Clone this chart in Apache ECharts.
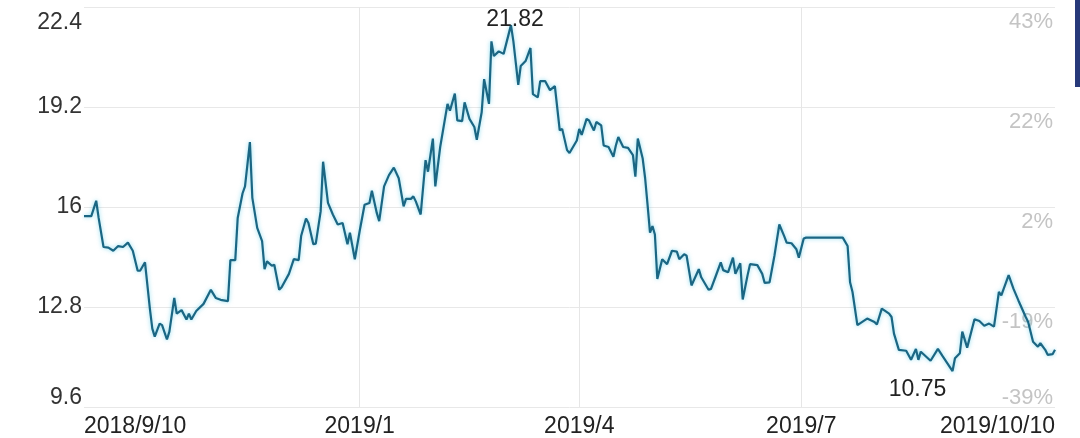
<!DOCTYPE html>
<html><head><meta charset="utf-8">
<script src="https://cdn.jsdelivr.net/npm/echarts@6/dist/echarts.min.js"></script>
<style>html,body{margin:0;padding:0;background:#fff}#c{width:1080px;height:438px}</style>
</head><body><div id="c"></div>
<script>
const dates = [
'2018-09-10','2018-09-13','2018-09-15','2018-09-16','2018-09-18','2018-09-20','2018-09-22','2018-09-24','2018-09-26','2018-09-28',
'2018-09-30','2018-10-02','2018-10-03','2018-10-05','2018-10-07','2018-10-08','2018-10-09','2018-10-11','2018-10-12','2018-10-14',
'2018-10-15','2018-10-17','2018-10-18','2018-10-20','2018-10-22','2018-10-23','2018-10-24','2018-10-26','2018-10-29','2018-11-01',
'2018-11-03','2018-11-05','2018-11-08','2018-11-09','2018-11-11','2018-11-12','2018-11-14','2018-11-15','2018-11-17','2018-11-18',
'2018-11-20','2018-11-22','2018-11-23','2018-11-24','2018-11-26','2018-11-27','2018-11-29','2018-11-30','2018-12-03','2018-12-05',
'2018-12-07','2018-12-08','2018-12-10','2018-12-11','2018-12-13','2018-12-14','2018-12-16','2018-12-17','2018-12-19','2018-12-21',
'2018-12-23','2018-12-25','2018-12-27','2018-12-28','2018-12-30','2019-01-01','2019-01-03','2019-01-05','2019-01-06','2019-01-08',
'2019-01-09','2019-01-11','2019-01-13','2019-01-15','2019-01-17','2019-01-19','2019-01-20','2019-01-22','2019-01-23','2019-01-24',
'2019-01-26','2019-01-28','2019-01-29','2019-01-31','2019-02-01','2019-02-03','2019-02-06','2019-02-07','2019-02-09','2019-02-10',
'2019-02-12','2019-02-13','2019-02-15','2019-02-17','2019-02-18','2019-02-20','2019-02-21','2019-02-23','2019-02-24','2019-02-25',
'2019-02-27','2019-03-01','2019-03-04','2019-03-05','2019-03-07','2019-03-08','2019-03-10','2019-03-12','2019-03-13','2019-03-15',
'2019-03-16','2019-03-18','2019-03-20','2019-03-22','2019-03-24','2019-03-25','2019-03-27','2019-03-28','2019-03-31','2019-04-01',
'2019-04-02','2019-04-04','2019-04-05','2019-04-07','2019-04-08','2019-04-10','2019-04-11','2019-04-13','2019-04-15','2019-04-16',
'2019-04-17','2019-04-19','2019-04-21','2019-04-23','2019-04-24','2019-04-25','2019-04-27','2019-04-28','2019-04-29','2019-04-30',
'2019-05-01','2019-05-02','2019-05-03','2019-05-05','2019-05-07','2019-05-09','2019-05-11','2019-05-12','2019-05-14','2019-05-15',
'2019-05-17','2019-05-20','2019-05-21','2019-05-24','2019-05-25','2019-05-27','2019-05-29','2019-05-30','2019-06-01','2019-06-03',
'2019-06-04','2019-06-06','2019-06-07','2019-06-09','2019-06-10','2019-06-13','2019-06-15','2019-06-16','2019-06-18','2019-06-20',
'2019-06-22','2019-06-24','2019-06-25','2019-06-27','2019-06-29','2019-06-30','2019-07-02','2019-07-03','2019-07-18','2019-07-20',
'2019-07-21','2019-07-22','2019-07-24','2019-07-28','2019-07-31','2019-08-01','2019-08-03','2019-08-06','2019-08-07','2019-08-08',
'2019-08-10','2019-08-13','2019-08-15','2019-08-17','2019-08-18','2019-08-19','2019-08-23','2019-08-26','2019-08-28','2019-09-01',
'2019-09-02','2019-09-04','2019-09-05','2019-09-07','2019-09-10','2019-09-12','2019-09-14','2019-09-16','2019-09-18','2019-09-20',
'2019-09-21','2019-09-24','2019-09-26','2019-09-28','2019-10-01','2019-10-02','2019-10-04','2019-10-06','2019-10-07','2019-10-09',
'2019-10-10','2019-10-12','2019-10-13'
];
const prices = [
15.71,15.71,16.20,15.65,14.72,14.70,14.60,14.75,14.72,14.86,
14.60,13.96,13.96,14.23,12.75,12.11,11.85,12.27,12.22,11.76,
12.01,13.09,12.59,12.70,12.40,12.59,12.40,12.67,12.90,13.35,
13.09,13.03,12.99,14.30,14.30,15.65,16.44,16.66,18.08,16.29,
15.33,14.91,14.01,14.26,14.12,14.15,13.35,13.43,13.86,14.33,
14.30,15.07,15.63,15.49,14.81,14.83,15.86,17.45,16.13,15.76,
15.44,15.49,14.81,15.18,14.33,15.23,16.07,16.13,16.52,15.81,
15.55,16.66,17.02,17.26,16.92,16.02,16.26,16.26,16.34,16.18,
15.76,17.50,17.13,18.19,16.66,17.92,19.30,19.08,19.63,18.77,
18.75,19.35,18.82,18.56,18.15,19.03,20.09,19.30,21.30,20.83,
20.98,20.90,21.82,21.30,19.91,20.51,20.67,21.09,19.61,19.51,
20.03,20.03,19.74,19.87,18.45,18.50,17.82,17.73,18.13,18.50,
18.31,18.82,18.77,18.45,18.72,18.61,17.97,17.92,17.61,17.97,
18.24,17.92,17.89,17.66,16.97,18.19,17.55,16.92,16.07,15.18,
15.39,15.12,13.70,14.33,14.17,14.60,14.57,14.33,14.49,14.44,
13.49,14.01,13.75,13.35,13.38,13.80,14.23,13.98,13.91,14.38,
13.86,14.20,13.04,13.82,14.17,14.14,13.86,13.57,13.59,14.44,
15.44,15.07,14.86,14.84,14.65,14.38,14.99,15.02,15.02,14.75,
13.59,13.28,12.22,12.43,12.32,12.24,12.75,12.59,12.48,11.95,
11.43,11.40,11.11,11.46,11.11,11.37,11.08,11.46,11.22,10.75,
11.16,11.32,12.01,11.50,12.41,12.35,12.20,12.27,12.17,13.28,
13.17,13.82,13.38,13.01,12.48,12.32,11.69,11.53,11.64,11.43,
11.27,11.29,11.43
];
const xTickDates = ['2018-09-10','2019-01-01','2019-04-01','2019-07-01','2019-10-13'];
const xTickLabels = ['2018/9/10','2019/1','2019/4','2019/7','2019/10/10'];
const yTicks = [9.6, 12.8, 16, 19.2, 22.4];
const yTickLabels = ['9.6','12.8','16','19.2','22.4'];
const pctTickLabels = ['-39%','-19%','2%','22%','43%'];

const FONT = '"Liberation Sans", Arial, Helvetica, sans-serif';
const pd = s => +echarts.number.parseDate(s);
const xTickValues = xTickDates.map(pd);
const yIdx = v => yTicks.findIndex(t => Math.abs(t - v) < 1e-6);

const chart = echarts.init(document.getElementById('c'), null, {renderer: 'canvas'});
chart.setOption({
  animation: false,
  backgroundColor: '#fff',
  grid: {left: 84, right: 25, top: 7, bottom: 27, containLabel: false},
  xAxis: {
    type: 'value',
    min: xTickValues[0],
    max: xTickValues[xTickValues.length - 1],
    axisLine: {show: false},
    axisTick: {show: false, customValues: xTickValues},
    axisLabel: {
      customValues: xTickValues,
      margin: 8,
      color: '#222',
      fontSize: 23,
      fontFamily: FONT,
      alignMinLabel: 'left',
      alignMaxLabel: 'right',
      formatter: v => { const i = xTickValues.indexOf(v); return i >= 0 ? xTickLabels[i] : ''; }
    },
    splitLine: {show: true, showMinLine: false, showMaxLine: false, lineStyle: {color: '#e6e6e6', width: 1}}
  },
  yAxis: [{
    type: 'value', min: 9.6, max: 22.4, interval: 3.2,
    axisLine: {show: false}, axisTick: {show: false},
    splitLine: {show: true, lineStyle: {color: '#e8e8e8', width: 1}},
    axisLabel: {
      margin: 2, color: '#333', fontSize: 23, fontFamily: FONT,
      formatter: v => {
        const i = yIdx(v); if (i < 0) return '';
        if (i === yTicks.length - 1) return '{t|' + yTickLabels[i] + '}';
        if (i === 0) return '{b|' + yTickLabels[i] + '}';
        return '{m|' + yTickLabels[i] + '}';
      },
      rich: {
        t: {fontSize: 23, fontFamily: FONT, color: '#333', padding: [32, 0, 0, 0]},
        b: {fontSize: 23, fontFamily: FONT, color: '#333', padding: [0, 0, 18, 0]},
        m: {fontSize: 23, fontFamily: FONT, color: '#333'}
      }
    }
  }, {
    type: 'value', position: 'right', min: 9.6, max: 22.4, interval: 3.2,
    axisLine: {show: false}, axisTick: {show: false}, splitLine: {show: false},
    axisLabel: {
      inside: true, margin: 2, color: '#c4c4c4', fontSize: 22, fontFamily: FONT,
      formatter: v => {
        const i = yIdx(v); if (i < 0) return '';
        return (i === 0 ? '{b|' : '{r|') + pctTickLabels[i] + '}';
      },
      rich: {
        r: {fontSize: 22, fontFamily: FONT, color: '#c4c4c4', padding: [30, 0, 0, 0]},
        b: {fontSize: 22, fontFamily: FONT, color: '#c4c4c4', padding: [0, 0, 18, 0]}
      }
    }
  }],
  series: [{
    type: 'line',
    data: dates.map((d, i) => [pd(d), prices[i]]),
    showSymbol: false,
    symbol: 'none',
    lineStyle: {color: '#1b6683', width: 2.2, shadowColor: 'rgba(40,190,225,0.55)', shadowBlur: 4},
    itemStyle: {color: '#1b6683'},
    markPoint: {
      symbol: 'circle', symbolSize: 0,
      label: {show: true, color: '#222', fontSize: 23, fontFamily: FONT},
      data: [
        {type: 'max', label: {position: 'inside', offset: [4, -5], formatter: p => Number(p.value).toFixed(2)}},
        {type: 'min', label: {position: 'inside', offset: [-35, 19], formatter: p => Number(p.value).toFixed(2)}}
      ]
    }
  }],
  graphic: [{type: 'rect', right: 0, top: 0, shape: {width: 5, height: 87}, style: {fill: '#27397a'}}]
});
</script>
</body></html>
